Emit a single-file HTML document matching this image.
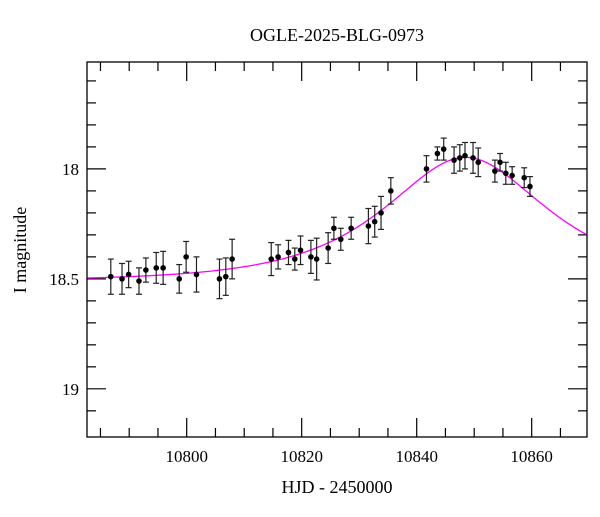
<!DOCTYPE html>
<html><head><meta charset="utf-8"><style>
body{margin:0;background:#fff;}
svg text{font-family:"Liberation Serif","DejaVu Serif",serif;fill:#000;}
</style></head><body>
<svg id="chart" width="600" height="512" viewBox="0 0 600 512" xmlns="http://www.w3.org/2000/svg">
<text x="337" y="41" font-size="18" text-anchor="middle">OGLE-2025-BLG-0973</text>
<text x="337" y="493" font-size="18" text-anchor="middle">HJD - 2450000</text>
<text x="26" y="250" font-size="18" text-anchor="middle" transform="rotate(-90 26 250)">I magnitude</text>
<g id="ticks"></g>
<g id="model"></g>
<g id="points"></g>
<rect x="87" y="62" width="500" height="375" fill="none" stroke="#000" stroke-width="1.3"/>
</svg>
<script>
const hjd = [10786.8,10788.75,10789.9,10791.7,10792.9,10794.7,10795.9,10798.7,10799.9,10801.7,10805.7,10806.8,10807.9,10814.7,10815.9,10817.7,10818.8,10819.8,10821.6,10822.6,10824.6,10825.6,10826.8,10828.6,10831.6,10832.7,10833.8,10835.5,10841.7,10843.6,10844.7,10846.5,10847.5,10848.4,10849.8,10850.7,10853.6,10854.5,10855.5,10856.6,10858.7,10859.7];
const mag = [18.49,18.50,18.48,18.51,18.46,18.45,18.45,18.50,18.40,18.48,18.50,18.49,18.41,18.41,18.40,18.38,18.41,18.37,18.40,18.41,18.36,18.27,18.32,18.27,18.26,18.24,18.20,18.10,18.00,17.93,17.91,17.96,17.95,17.94,17.95,17.97,18.01,17.97,18.02,18.03,18.04,18.08];
const err = [0.08,0.07,0.06,0.06,0.055,0.07,0.075,0.065,0.07,0.08,0.09,0.085,0.09,0.075,0.055,0.055,0.05,0.065,0.075,0.095,0.07,0.05,0.05,0.05,0.08,0.07,0.075,0.06,0.06,0.03,0.05,0.06,0.06,0.06,0.07,0.065,0.05,0.04,0.05,0.04,0.045,0.045];
const modelT0 = 10848.5, modelU0 = 0.7, modelTE = 20.7, modelBase = 18.51;
const xTicks = [10800,10820,10840,10860];
const yTicks = [18,18.5,19];
const yTickLabels = ["18","18.5","19"];

const X0=87,X1=587,Y0=62,Y1=437, dMin=10782.66, dMax=10869.62, mMin=17.514, mMax=19.219;
const xs = d => X0+(d-dMin)/(dMax-dMin)*(X1-X0);
const ys = m => Y0+(m-mMin)/(mMax-mMin)*(Y1-Y0);
const NS="http://www.w3.org/2000/svg";
function mk(tag,attrs,parent){const e=document.createElementNS(NS,tag);for(const k in attrs)e.setAttribute(k,attrs[k]);parent.appendChild(e);return e;}
const tg=document.getElementById('ticks');
for(let d=10785; d<=10869; d+=5){
  const x=xs(d), major=xTicks.includes(d), L=major?19:9;
  let l=mk('line',{x1:x,x2:x,y1:Y1,y2:Y1-L,stroke:'#000','stroke-width':1.2},tg);
  
  
  l=mk('line',{x1:x,x2:x,y1:Y0,y2:Y0+L,stroke:'#000','stroke-width':1.2},tg);
  
  
}
xTicks.forEach(d=>{const t=mk('text',{x:xs(d),y:Y1+25,'font-size':17,'text-anchor':'middle'},tg);t.textContent=d;
  
  });
for(let i=6;i<=21;i++){
  const mm=Math.round((17.0+i*0.1)*10)/10;
  if(mm<mMin||mm>mMax) continue;
  const y=ys(mm), major=Math.abs(mm*2-Math.round(mm*2))<1e-6, L=major?19:9;
  let l=mk('line',{x1:X0,x2:X0+L,y1:y,y2:y,stroke:'#000','stroke-width':1.2},tg);
  
  
  l=mk('line',{x1:X1,x2:X1-L,y1:y,y2:y,stroke:'#000','stroke-width':1.2},tg);
  
  
}
yTicks.forEach((m,i)=>{const t=mk('text',{x:X0-8,y:ys(m)+6,'font-size':17,'text-anchor':'end'},tg);t.textContent=yTickLabels[i];
  
  });
function modelMag(t){const tau=(t-modelT0)/modelTE;const u=Math.sqrt(modelU0*modelU0+tau*tau);const A=(u*u+2)/(u*Math.sqrt(u*u+4));return modelBase-2.5*Math.log10(A);}
let dp='';for(let i=0;i<=400;i++){const t=dMin+(dMax-dMin)*i/400;dp+=(i?'L':'M')+xs(t).toFixed(2)+','+ys(modelMag(t)).toFixed(2);}
const mp=mk('path',{d:dp,fill:'none',stroke:'#ff00ff','stroke-width':1.3},document.getElementById('model'));


const pg=document.getElementById('points');
hjd.forEach((d,i)=>{
  const x=xs(d),y=ys(mag[i]),ya=ys(mag[i]-err[i]),yb=ys(mag[i]+err[i]);
  const g=mk('g',{},pg);
  
  
  mk('line',{x1:x,x2:x,y1:ya,y2:yb,stroke:'#222','stroke-width':1.2},g);
  mk('line',{x1:x-3,x2:x+3,y1:ya,y2:ya,stroke:'#222','stroke-width':1.2},g);
  mk('line',{x1:x-3,x2:x+3,y1:yb,y2:yb,stroke:'#222','stroke-width':1.2},g);
  mk('circle',{cx:x,cy:y,r:2.8,fill:'#000'},g);
});
</script>
</body></html>
